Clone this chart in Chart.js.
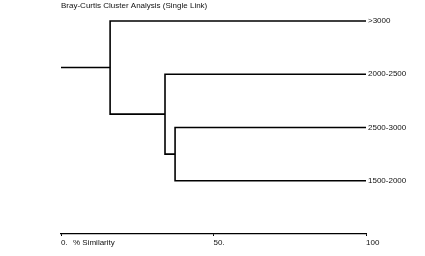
<!DOCTYPE html>
<html>
<head>
<meta charset="utf-8">
<script src="https://cdn.jsdelivr.net/npm/chart.js@4.4.1/dist/chart.umd.min.js"></script>
<style>
  html, body { margin: 0; padding: 0; background: #fff; }
  #wrap { width: 425px; height: 256px; }
</style>
</head>
<body>
<div id="wrap"><canvas id="chart_dendrogram"></canvas></div>
<script>
// leaves, top to bottom
var leafLabels = ['>3000', '2000-2500', '2500-3000', '1500-2000'];
// merges: node index >= leafLabels.length refers to an earlier merge
var mergeLeft = [2, 1, 0];
var mergeRight = [3, 4, 5];
var mergeSimilarity = [37.4, 34.1, 16.1];
var tickValues = [0, 50, 100];
var tickLabels = ['0.', '50.', '100'];
var axisTitle = '% Similarity';
var chartTitle = 'Bray-Curtis Cluster Analysis (Single Link)';

var FONT = "'Liberation Sans', Arial, sans-serif";

// node positions (x = similarity, y = row)
var nodeX = [];
var nodeY = [];
leafLabels.forEach(function (l, i) { nodeX.push(100); nodeY.push(i); });
mergeSimilarity.forEach(function (s, i) {
    var a = mergeLeft[i], b = mergeRight[i];
    nodeX.push(s);
    nodeY.push((nodeY[a] + nodeY[b]) / 2);
});

var datasets = mergeSimilarity.map(function (s, i) {
    var a = mergeLeft[i], b = mergeRight[i];
    return {
        data: [
            { x: nodeX[a], y: nodeY[a] },
            { x: s, y: nodeY[a] },
            { x: s, y: nodeY[b] },
            { x: nodeX[b], y: nodeY[b] }
        ]
    };
});
var root = nodeX.length - 1;
datasets.push({ data: [{ x: 0, y: nodeY[root] }, { x: nodeX[root], y: nodeY[root] }] });
datasets.forEach(function (d) {
    d.showLine = true;
    d.borderColor = '#000';
    d.borderWidth = 1.6;
    d.pointRadius = 0;
    d.tension = 0;
});

var chart_dendrogram = new Chart(document.getElementById('chart_dendrogram'), {
    type: 'scatter',
    data: { datasets: datasets },
    options: {
        animation: false,
        responsive: true,
        maintainAspectRatio: false,
        layout: { padding: { left: 61, right: 0, top: 0, bottom: 0 } },
        plugins: {
            legend: { display: false },
            tooltip: { enabled: false },
            title: {
                display: true,
                text: chartTitle,
                align: 'start',
                color: '#111',
                font: { family: FONT, size: 8, weight: 'normal' },
                padding: { top: 1, bottom: 5 }
            }
        },
        scales: {
            x: {
                type: 'linear',
                min: 0,
                max: 100,
                afterBuildTicks: function (scale) {
                    scale.ticks = tickValues.map(function (v) { return { value: v }; });
                },
                afterFit: function (scale) { scale.height = 22; },
                ticks: {
                    align: 'start',
                    padding: 2,
                    color: '#111',
                    font: { family: FONT, size: 8 },
                    maxRotation: 0,
                    callback: function (v) { return tickLabels[tickValues.indexOf(v)]; }
                },
                grid: { drawOnChartArea: false, tickLength: 2, color: '#000' },
                border: { display: true, color: '#000', width: 1.2 }
            },
            y: {
                type: 'linear',
                position: 'right',
                reverse: true,
                min: -0.1,
                max: 4,
                afterBuildTicks: function (scale) {
                    scale.ticks = leafLabels.map(function (l, i) { return { value: i }; });
                },
                afterFit: function (scale) { scale.width = 59; },
                ticks: {
                    padding: 2,
                    color: '#111',
                    font: { family: FONT, size: 8 },
                    callback: function (v) { return leafLabels[v]; }
                },
                grid: { display: false, drawTicks: false },
                border: { display: false }
            }
        }
    },
    plugins: [{
        id: 'axisTitlePlugin',
        afterDraw: function (chart) {
            var ctx = chart.ctx;
            var xs = chart.scales.x;
            ctx.save();
            ctx.font = '8px ' + FONT;
            ctx.fillStyle = '#111';
            ctx.textAlign = 'left';
            ctx.textBaseline = 'middle';
            ctx.fillText(axisTitle, xs.getPixelForValue(0) + 12, xs.top + 9);
            ctx.restore();
        }
    }, {
        id: 'customPlugin',
        beforeDraw: function (chart) {
            var ctx = chart.canvas.getContext('2d');
            ctx.save();
            ctx.globalCompositeOperation = 'destination-over';
            ctx.fillStyle = 'white';
            ctx.fillRect(0, 0, chart.canvas.width, chart.canvas.height);
            ctx.restore();
        }
    }]
});
</script>
</body>
</html>
